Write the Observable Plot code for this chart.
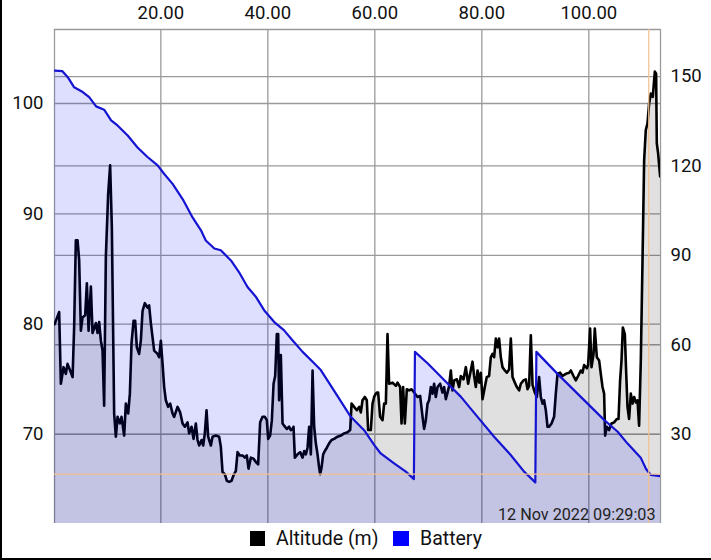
<!DOCTYPE html>
<html><head><meta charset="utf-8">
<script src="https://cdn.jsdelivr.net/npm/d3@7"></script>
<script src="https://cdn.jsdelivr.net/npm/@observablehq/plot@0.6"></script>
<style>
body{margin:0;background:#fff;}
#frame{width:709px;height:558px;border-left:2px solid #000;border-bottom:2px solid #000;position:relative;font-family:Roboto,sans-serif;overflow:hidden;}
#chart svg{display:block;}
.lg{position:absolute;top:531px;width:15px;height:15px;}
.lt{position:absolute;top:527px;font-size:19.5px;line-height:24px;color:#111;}
</style></head>
<body>
<div id="frame">
  <div id="chart"></div>
  <div class="lg" style="left:248px;background:#000"></div>
  <div class="lt" style="left:274px">Altitude (m)</div>
  <div class="lg" style="left:391px;background:#0000ff;width:16px"></div>
  <div class="lt" style="left:418px">Battery</div>
</div>
<script>
// time axis (top) ticks
const xTicks = [20, 40, 60, 80, 100];
const leftTicks = [70, 80, 90, 100];      // altitude (m)
const rightTicks = [30, 60, 90, 120, 150]; // battery
const xDomain = [0.12, 113.4];
const altDomain = [61.93, 106.71];
const batDomain = [0, 165.8];
const timestamp = "12 Nov 2022 09:29:03";
const highlightTime = 111.2;
const highlightBattery = 16.6;

const altitudeTime = [0.15,0.99,1.31,1.81,2.24,2.56,3.05,3.50,3.79,4.11,4.43,4.73,5.05,5.36,5.85,6.17,6.49,6.92,7.23,7.85,8.17,8.47,8.79,9.10,9.40,9.72,10.15,10.52,10.84,11.27,11.59,11.91,12.34,12.65,13.14,13.46,13.89,14.21,14.52,14.90,15.20,15.51,15.94,16.26,16.58,17.01,17.51,17.81,18.13,18.45,18.75,19.38,19.68,20.00,20.32,20.62,20.93,21.36,21.74,22.19,22.49,23.12,23.61,24.06,24.49,24.99,25.29,25.74,26.11,26.54,26.86,27.16,27.61,27.91,28.22,28.54,28.84,29.35,29.66,30.28,30.90,31.21,31.53,31.96,32.34,32.77,33.21,33.59,34.02,34.34,34.77,35.27,35.70,36.07,36.39,36.82,37.33,37.76,38.19,38.56,39.01,39.44,39.81,40.06,40.43,40.75,41.07,41.37,41.68,41.93,42.11,42.43,42.75,43.05,43.55,43.98,44.30,44.62,44.80,45.05,45.55,46.04,46.49,46.79,47.10,47.42,47.72,48.04,48.36,48.66,48.97,49.29,49.59,49.78,50.04,50.34,50.65,51.03,51.46,51.91,52.39,53.03,53.64,54.26,54.90,55.39,55.65,56.13,56.64,57.07,57.38,57.70,58.13,58.50,58.75,59.25,59.57,59.87,60.19,60.37,60.62,60.99,61.44,61.74,62.06,62.37,62.67,63.31,63.93,64.24,64.73,64.99,65.29,65.61,65.98,66.41,66.86,67.35,67.98,68.47,68.92,69.21,69.53,69.85,70.15,70.47,70.79,71.08,71.40,71.72,72.21,72.65,72.95,73.27,73.59,73.89,74.21,74.52,74.82,75.33,75.76,76.07,76.58,77.01,77.44,77.81,78.26,78.56,78.88,79.20,79.50,79.81,80.13,80.56,80.93,81.36,81.68,82.00,82.30,82.62,82.93,83.23,83.55,83.87,84.30,84.67,85.10,85.42,85.74,86.17,86.54,86.97,87.29,87.79,88.22,88.54,88.84,89.16,89.48,89.91,90.28,90.71,91.03,91.35,91.64,91.96,92.28,92.58,93.03,93.51,93.83,94.15,94.64,95.08,95.70,96.32,96.64,97.14,97.57,98.00,98.50,98.82,99.12,99.63,99.87,100.24,100.50,100.88,101.12,101.50,101.93,102.24,102.56,102.86,103.05,103.36,103.79,104.24,104.73,105.23,105.55,105.85,106.11,106.36,106.73,106.97,107.23,107.53,107.85,108.17,108.47,108.79,109.10,109.40,109.72,110.04,110.34,110.65,110.97,111.27,111.59,111.96,112.34,112.58,112.71,112.95,113.33];
const altitudeValues = [80.0,81.1,74.6,76.1,75.5,76.4,75.8,75.2,79.7,87.6,87.6,85.8,79.4,80.6,80.8,83.7,79.4,83.4,79.2,80.1,79.2,80.2,78.5,77.6,72.6,86.1,91.8,94.4,88.8,71.9,69.8,71.6,71.0,71.6,69.9,72.8,71.9,73.7,78.3,80.3,80.3,77.9,77.3,78.5,81.2,81.9,81.5,81.7,80.1,78.8,77.6,77.3,77.0,78.5,76.4,74.3,73.1,72.5,72.8,71.9,71.6,72.5,72.0,71.0,70.7,71.1,70.1,70.7,69.6,71.0,69.5,69.0,69.5,69.0,70.1,72.2,69.8,69.0,69.8,69.9,69.8,68.9,66.6,66.4,65.8,65.7,65.8,66.3,66.7,68.4,68.1,68.1,67.9,68.1,66.9,67.9,67.8,67.5,67.3,71.1,71.6,71.6,71.3,69.6,69.9,71.3,74.6,75.3,79.1,79.1,73.1,77.2,71.0,70.8,70.5,70.7,70.4,70.5,70.7,67.9,68.2,68.4,67.9,68.5,68.2,68.8,70.7,68.2,75.8,70.7,69.2,68.2,67.0,66.4,67.0,68.2,68.5,68.8,69.2,69.5,69.6,69.8,69.9,70.1,70.2,70.4,72.8,72.5,72.2,72.5,72.0,73.1,73.4,73.1,70.4,70.4,72.8,73.4,73.7,73.8,73.8,71.6,71.3,72.8,72.8,79.1,74.6,74.7,74.4,74.7,74.3,71.0,74.3,71.0,74.1,74.0,74.1,73.8,73.4,73.5,71.6,70.5,71.3,72.8,73.1,74.3,73.7,74.6,73.4,74.3,74.6,73.8,74.3,73.2,73.8,74.4,75.8,74.0,74.9,75.0,74.3,75.3,75.0,76.1,74.6,75.5,76.6,75.3,74.3,75.8,74.7,75.6,73.2,74.3,75.2,75.3,77.0,77.3,77.0,78.7,77.9,78.7,77.0,76.1,75.8,75.6,75.9,78.7,75.2,74.7,74.3,74.0,74.6,74.9,75.0,74.1,74.4,79.0,74.5,73.8,73.4,75.2,73.4,72.8,73.1,72.2,70.7,70.7,71.0,71.6,73.7,75.5,75.6,75.3,75.5,75.6,75.8,75.3,74.9,75.3,75.8,75.6,76.3,76.0,76.3,79.6,76.1,77.3,79.6,77.0,76.7,75.5,74.3,73.7,69.9,70.7,70.4,71.0,71.1,71.4,71.4,74.9,76.7,79.7,79.1,75.8,72.5,71.4,73.7,72.8,73.4,72.9,73.1,70.8,76.7,85.8,94.8,97.6,98.2,100.0,100.9,100.6,102.9,102.7,96.4,95.5,93.4];

const batteryTime = [0.15,1.6,2.6,3.8,5.4,6.6,7.9,9.4,10.7,11.9,13.8,15.6,17.5,19.4,20.6,22.2,24.1,25.9,27.5,28.4,30.0,31.2,33.1,34.6,36.2,37.8,39.3,41.2,43.0,44.6,46.5,48.7,49.9,51.5,53.3,55.5,58.0,59.9,61.1,63.6,65.8,67.3,67.5,69.9,73.0,76.1,79.2,82.3,85.4,87.9,90.0,90.2,94.1,98.5,102.9,105.4,107.2,109.7,110.7,111.6,113.4];
const batteryValues = [152.0,151.8,149.8,146.4,144.8,143.1,140.0,138.9,135.3,133.6,130.2,126.3,123.0,120.2,117.4,114.0,108.8,102.8,98.4,95.0,92.3,91.7,88.3,84.4,79.4,76.0,71.6,67.6,64.9,61.5,57.6,53.7,51.5,47.0,42.0,35.8,31.3,26.3,23.5,20.2,17.4,14.9,57.6,53.7,48.1,42.5,35.8,29.1,23.0,17.4,13.8,57.6,50.3,42.5,34.7,30.8,26.9,22.1,18.3,16.3,15.9];

// map battery onto the altitude (left) scale for the secondary right axis
const k = (altDomain[1] - altDomain[0]) / (batDomain[1] - batDomain[0]);
const toAlt = b => altDomain[0] + (b - batDomain[0]) * k;
const fromAlt = a => batDomain[0] + (a - altDomain[0]) / k;

const alt = altitudeTime.map((t, i) => ({t, v: altitudeValues[i]}));
const bat = batteryTime.map((t, i) => ({t, v: toAlt(batteryValues[i])}));

const gridStyle = {stroke: "#9a9a9a", strokeOpacity: 1, strokeWidth: 1.3};
const hl = {stroke: "#f3c08e", strokeWidth: 1.2};

const chart = Plot.plot({
  width: 709, height: 527,
  marginLeft: 52, marginRight: 51, marginTop: 29, marginBottom: 4,
  x: {domain: xDomain, label: null},
  y: {domain: altDomain, label: null},
  style: {fontFamily: "Roboto, sans-serif", fontSize: "18px", color: "#111", background: "white", overflow: "visible"},
  marks: [
    Plot.gridX(xTicks, gridStyle),
    Plot.gridY(leftTicks, gridStyle),
    Plot.gridY(rightTicks.map(toAlt), gridStyle),
    Plot.ruleY([altDomain[1]], gridStyle),
    Plot.ruleX([xDomain[0], xDomain[1]], gridStyle),
    Plot.areaY(alt, {x: "t", y1: altDomain[0], y2: "v", fill: "#000", fillOpacity: 0.12, clip: true}),
    Plot.line(alt, {x: "t", y: "v", stroke: "#000", strokeWidth: 2.6, clip: true}),
    Plot.areaY(bat, {x: "t", y1: altDomain[0], y2: "v", fill: "#0000ff", fillOpacity: 0.13, clip: true}),
    Plot.line(bat, {x: "t", y: "v", stroke: "#1414d2", strokeWidth: 2.2, clip: true}),
    Plot.ruleX([highlightTime], hl),
    Plot.ruleY([toAlt(highlightBattery)], hl),
    Plot.axisX(xTicks, {anchor: "top", tickSize: 0, tickPadding: 11, tickFormat: d => d.toFixed(2), fontSize: 18.5}),
    Plot.axisY(leftTicks, {anchor: "left", tickSize: 0, tickPadding: 11, tickFormat: d => String(d), fontSize: 18.5}),
    Plot.axisY(rightTicks.map(toAlt), {anchor: "right", tickSize: 0, tickPadding: 10, tickFormat: d => String(Math.round(fromAlt(d))), fontSize: 18.5}),
    Plot.text([timestamp], {frameAnchor: "bottom-right", dx: -5, dy: -4, fontSize: 16.2, fill: "#222", textAnchor: "end", lineAnchor: "bottom"})
  ]
});
document.getElementById("chart").appendChild(chart);
</script>
</body></html>
